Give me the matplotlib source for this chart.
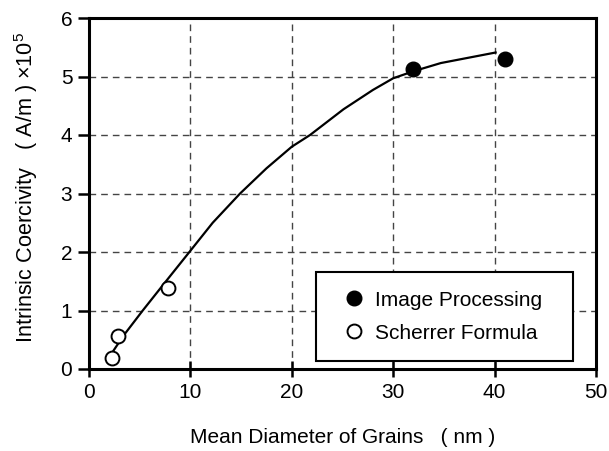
import numpy as np
import matplotlib.pyplot as plt

plt.rcParams['font.family'] = ['Liberation Sans', 'DejaVu Sans']
plt.rcParams['mathtext.fontset'] = 'custom'
plt.rcParams['mathtext.rm'] = 'Liberation Sans'

# data
image_x = [32, 41]
image_y = [5.12, 5.30]
scherrer_x = [2.3, 2.9, 7.8]
scherrer_y = [0.18, 0.57, 1.38]

# fitted curve (hand drawn in the original)
curve_x = [2.4, 3.4, 5.3, 7.5, 9.9, 12.2, 14.9, 17.5, 20.0, 21.8, 25.1, 28.0, 30.0, 32.0, 34.7, 38.0, 40.1]
curve_y = [0.31, 0.57, 1.0, 1.48, 2.0, 2.5, 3.0, 3.43, 3.80, 4.0, 4.44, 4.77, 4.97, 5.09, 5.23, 5.34, 5.41]

x_ticks = [0, 10, 20, 30, 40, 50]
y_ticks = [0, 1, 2, 3, 4, 5, 6]

fig = plt.figure(figsize=(6.09, 4.51), dpi=100)
ax = fig.add_axes([89/609, 1 - 369/451, 507/609, 351/451])

ax.plot(curve_x, curve_y, color='black', lw=1.6, zorder=3)
ax.plot(image_x, image_y, 'o', ms=10.5, color='black', zorder=4,
        label='Image Processing')
ax.plot(scherrer_x, scherrer_y, 'o', ms=10, mfc='white', mec='black', mew=1.4,
        zorder=4, label='Scherrer Formula')

ax.set_xlim(0, 50)
ax.set_ylim(0, 6)
ax.set_xticks(x_ticks)
ax.set_yticks(y_ticks)

for v in x_ticks[1:-1]:
    ax.axvline(v, color='#444444', lw=1, dashes=(4.8, 3.6), zorder=1)
for v in y_ticks[1:-1]:
    ax.axhline(v, color='#444444', lw=1, dashes=(4.8, 3.6), zorder=1)

for s in ax.spines.values():
    s.set_linewidth(2.2)

ax.tick_params(axis='x', direction='inout', length=12, width=1.8, pad=4, labelsize=15)
ax.tick_params(axis='y', direction='out', length=8, width=1.8, pad=4, labelsize=15)

ax.set_xlabel('Mean Diameter of Grains   ( nm )', fontsize=15, labelpad=19)
ax.set_ylabel('Intrinsic Coercivity   ( A/m ) ×10$^5$', fontsize=15.6)
ax.yaxis.set_label_coords(-0.097, 0.517)

leg = ax.legend(loc='upper left', bbox_to_anchor=(0.448, 0.03, 0.507, 0.245),
                mode='expand', fontsize=15, frameon=True, fancybox=False,
                borderpad=0.87, labelspacing=0.68, handlelength=1.9,
                handletextpad=0.05, borderaxespad=0)
leg.get_frame().set_edgecolor('black')
leg.get_frame().set_linewidth(1.5)
leg.get_frame().set_alpha(1)

fig.savefig('out.png', dpi=100)
